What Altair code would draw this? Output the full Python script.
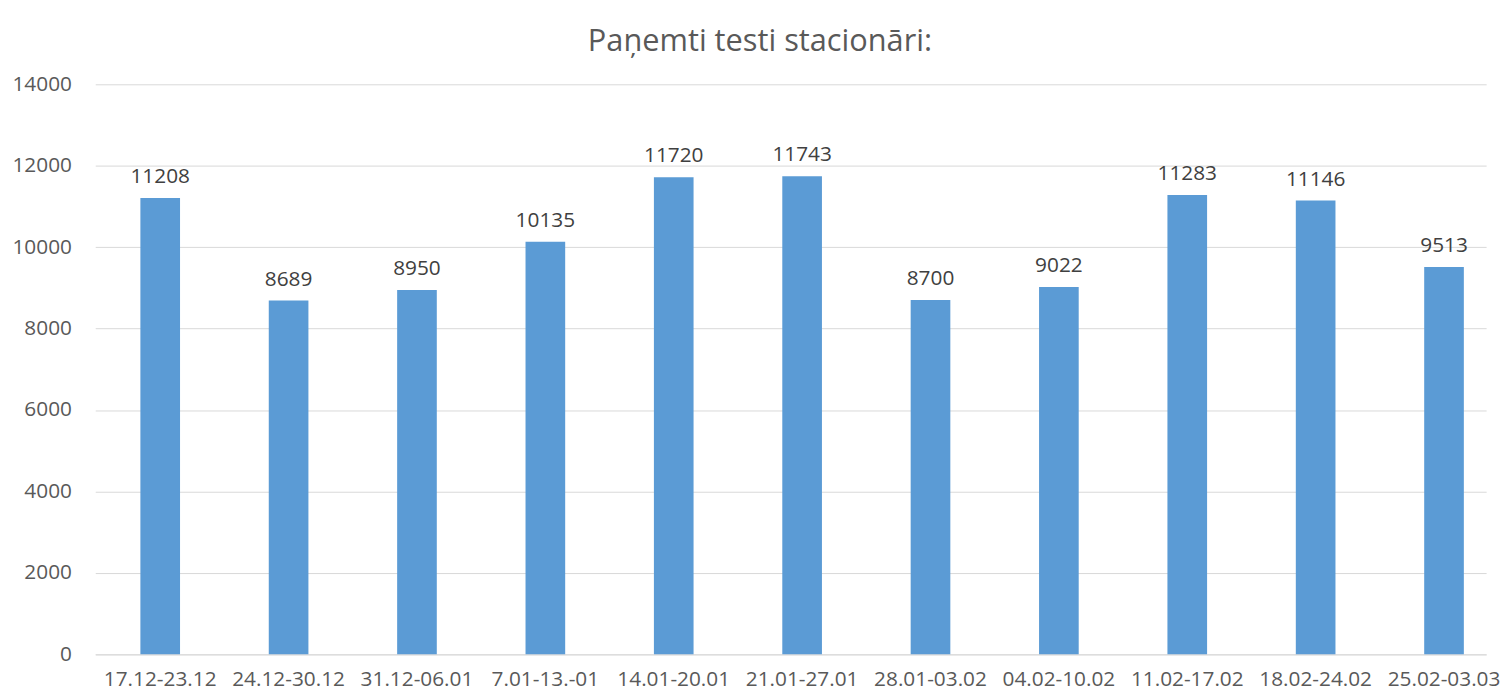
import altair as alt
import pandas as pd

categories = ["17.12-23.12", "24.12-30.12", "31.12-06.01", "7.01-13.-01", "14.01-20.01",
              "21.01-27.01", "28.01-03.02", "04.02-10.02", "11.02-17.02", "18.02-24.02", "25.02-03.03"]
values = [11208, 8689, 8950, 10135, 11720, 11743, 8700, 9022, 11283, 11146, 9513]
y_ticks = [0, 2000, 4000, 6000, 8000, 10000, 12000, 14000]

df = pd.DataFrame({"period": categories, "tests": values})

FONT = "Open Sans"

base = alt.Chart(df).encode(
    x=alt.X("period:N", sort=categories, title=None,
            scale=alt.Scale(paddingInner=0.69, paddingOuter=0.262, align=0.67),
            axis=alt.Axis(labelAngle=0, labelFontSize=21, labelColor="#595959", labelFont=FONT,
                          ticks=False, domain=True, domainColor="#d9d9d9", labelPadding=14,
                          grid=False)),
    y=alt.Y("tests:Q", title=None,
            scale=alt.Scale(domain=[0, 14000], nice=False),
            axis=alt.Axis(values=y_ticks, format="d", labelFontSize=21, labelColor="#595959",
                          labelFont=FONT, ticks=False, domain=False, gridColor="#d9d9d9",
                          gridWidth=1, labelPadding=24, minExtent=88, maxExtent=88)),
)

bars = base.mark_bar(color="#5b9bd5", width=40)
labels = base.mark_text(baseline="alphabetic", dy=-15, fontSize=21, color="#404040",
                        font=FONT).encode(text="tests:Q")

chart = (bars + labels).properties(
    width=1403, height=575,
    padding={"left": 0, "right": 0, "top": 15, "bottom": 0},
    title=alt.TitleParams("Paņemti testi stacionāri:", fontSize=31, font=FONT, color="#595959",
                          fontWeight="normal", anchor="middle", offset=16, dx=-31),
).configure_view(stroke=None)

chart.save("out.html", embed_options={"renderer": "svg", "actions": False})
